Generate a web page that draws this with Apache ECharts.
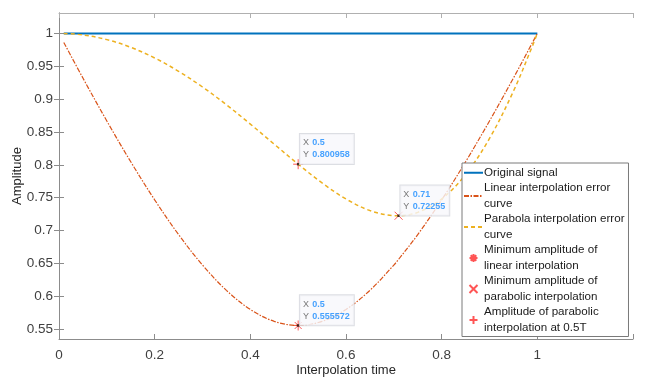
<!DOCTYPE html>
<html>
<head>
<meta charset="utf-8">
<style>
  html, body { margin: 0; padding: 0; background: #fff; }
  #chart { width: 645px; height: 377px; }
</style>
<script src="https://cdn.jsdelivr.net/npm/echarts@6/dist/echarts.min.js"></script>
</head>
<body>
<div id="chart"></div>
<script>
// interpolation time samples
const tValues = [0.01, 0.05, 0.1, 0.15, 0.2, 0.25, 0.3, 0.35, 0.4, 0.45, 0.5,
  0.55, 0.6, 0.65, 0.7, 0.71, 0.75, 0.8, 0.85, 0.9, 0.95, 0.99, 1];
const originalAmp = [1, 1, 1, 1, 1, 1, 1, 1, 1, 1, 1, 1, 1, 1, 1, 1, 1, 1, 1, 1, 1, 1, 1];
const linearAmp = [0.9862, 0.932, 0.8667, 0.8046, 0.7467, 0.6939, 0.6475, 0.609, 0.5799, 0.5618, 0.5556,
  0.5618, 0.5799, 0.609, 0.6475, 0.6562, 0.6939, 0.7467, 0.8046, 0.8667, 0.932, 0.9862, 1];
const parabolaAmp = [0.9999, 0.9976, 0.9905, 0.9788, 0.9626, 0.9423, 0.9184, 0.8914, 0.862, 0.8314, 0.801,
  0.7724, 0.748, 0.7304, 0.7227, 0.7226, 0.7277, 0.748, 0.7853, 0.8401, 0.912, 0.9812, 1];

// data tips
const tipX = [0.5, 0.71, 0.5];
const tipY = [0.800958, 0.72255, 0.555572];

const yTicks = [0.55, 0.6, 0.65, 0.7, 0.75, 0.8, 0.85, 0.9, 0.95, 1];

const names = {
  orig: "Original signal",
  lin: "Linear interpolation error curve",
  par: "Parabola interpolation error curve",
  minLin: "Minimum amplitude of linear interpolation",
  minPar: "Minimum amplitude of parabolic interpolation",
  half: "Amplitude of parabolic interpolation at 0.5T"
};
const wrapped = {};
wrapped[names.orig] = "Original signal";
wrapped[names.lin] = "Linear interpolation error\ncurve";
wrapped[names.par] = "Parabola interpolation error\ncurve";
wrapped[names.minLin] = "Minimum amplitude of\nlinear interpolation";
wrapped[names.minPar] = "Minimum amplitude of\nparabolic interpolation";
wrapped[names.half] = "Amplitude of parabolic\ninterpolation at 0.5T";

const pair = (xs, ys) => xs.map((x, i) => [x, ys[i]]);

const FONT = "Liberation Sans";
const axisColor = "#8c8c8c";
const markRed = "#ff2a2a";

const chart = echarts.init(document.getElementById("chart"), null, { renderer: "canvas" });

const yMin = 0.535, yMax = 1.031;

// line series in the legend: hide the circle ECharts puts on the line icon
const noDot = { color: "transparent", borderWidth: 0, opacity: 0 };

const option = {
  animation: false,
  textStyle: { fontFamily: FONT },
  grid: { left: 59, right: 12, top: 13, bottom: 38, show: false, outerBoundsMode: "none", containLabel: false },
  legend: {
    orient: "vertical",
    left: 462,
    top: 163,
    padding: [2, 4, 1, 1],
    itemGap: 0,
    itemWidth: 19,
    itemHeight: 8,
    backgroundColor: "#fff",
    borderColor: "#7a7a7a",
    borderWidth: 1,
    borderRadius: 0,
    textStyle: { fontSize: 11.6, color: "#1a1a1a", lineHeight: 15.5, padding: [0, 0, 0, -4] },
    formatter: (n) => wrapped[n] || n,
    data: [
      { name: names.orig, itemStyle: noDot },
      { name: names.lin, itemStyle: noDot },
      { name: names.par, itemStyle: noDot },
      names.minLin, names.minPar, names.half
    ]
  },
  xAxis: [
    {
      type: "value",
      min: 0, max: 1.2, interval: 0.2,
      name: "Interpolation time",
      nameLocation: "middle",
      nameGap: 25,
      nameMoveOverlap: false,
      nameTextStyle: { fontSize: 13, color: "#262626" },
      axisLine: { lineStyle: { color: axisColor } },
      axisTick: { inside: true, length: 5, lineStyle: { color: axisColor } },
      axisLabel: {
        fontSize: 13.5, color: "#404040", margin: 9,
        formatter: (v) => (v > 1.01 ? "" : String(Math.round(v * 10) / 10))
      },
      splitLine: { show: false }
    },
    {
      type: "value",
      position: "top",
      min: 0, max: 1.2, interval: 0.2,
      axisLine: { show: true, lineStyle: { color: "#b0b0b0" } },
      axisTick: { inside: true, length: 5, lineStyle: { color: "#b0b0b0" } },
      axisLabel: { show: false },
      splitLine: { show: false }
    }
  ],
  yAxis: [
    {
      type: "value",
      min: yMin, max: yMax,
      name: "Amplitude",
      nameLocation: "middle",
      nameGap: 35,
      nameMoveOverlap: false,
      nameTextStyle: { fontSize: 13, color: "#262626" },
      axisLine: { show: true, lineStyle: { color: "#b0b0b0" } },
      axisTick: { inside: true, length: 5, customValues: yTicks, lineStyle: { color: axisColor } },
      axisLabel: { fontSize: 13.5, color: "#404040", margin: 6, customValues: yTicks },
      splitLine: { show: false }
    },
    {
      type: "value",
      position: "right",
      min: yMin, max: yMax,
      axisLine: { show: true, lineStyle: { color: axisColor } },
      axisTick: { inside: true, length: 5, customValues: yTicks, lineStyle: { color: axisColor } },
      axisLabel: { show: false },
      splitLine: { show: false }
    }
  ],
  series: [
    {
      name: names.orig,
      type: "line",
      data: pair(tValues, originalAmp),
      symbol: "none",
      lineStyle: { color: "#0072BD", width: 2 },
      itemStyle: { color: "#0072BD" }
    },
    {
      name: names.lin,
      type: "line",
      data: pair(tValues, linearAmp),
      symbol: "none",
      smooth: 0.35,
      lineStyle: { color: "#D95319", width: 1.2, type: [5, 1.5, 1.5, 1.5] },
      itemStyle: { color: "#D95319" }
    },
    {
      name: names.par,
      type: "line",
      data: pair(tValues, parabolaAmp),
      symbol: "none",
      smooth: 0.35,
      lineStyle: { color: "#EDB120", width: 1.5, type: [4, 3] },
      itemStyle: { color: "#EDB120" }
    },
    {
      name: names.minLin,
      type: "scatter",
      data: [[tipX[2], tipY[2]]],
      symbol: "path://M5,0L5,10M0,5L10,5M1.5,1.5L8.5,8.5M8.5,1.5L1.5,8.5",
      symbolSize: 10,
      itemStyle: { color: "transparent", borderColor: markRed, borderWidth: 1 }
    },
    {
      name: names.minPar,
      type: "scatter",
      data: [[tipX[1], tipY[1]]],
      symbol: "path://M0,0L10,10M10,0L0,10",
      symbolSize: 8,
      itemStyle: { color: "transparent", borderColor: markRed, borderWidth: 1 }
    },
    {
      name: names.half,
      type: "scatter",
      data: [[tipX[0], tipY[0]]],
      symbol: "path://M5,0L5,10M0,5L10,5",
      symbolSize: 10,
      itemStyle: { color: "transparent", borderColor: markRed, borderWidth: 1 }
    },
    {
      name: "datatips",
      type: "scatter",
      symbol: "rect",
      symbolSize: 2.5,
      itemStyle: { color: "#111" },
      z: 5,
      data: tipX.map((x, i) => ({
        value: [x, tipY[i]],
        label: {
          show: true,
          position: [3, -29],
          formatter: "{g|X} {b|" + x + "}\n{g|Y} {b|" + tipY[i] + "}",
          backgroundColor: "#f7f8fb",
          borderColor: "#d3d6dc",
          borderWidth: 1,
          padding: [3, 4, 3, 3],
          lineHeight: 12,
          rich: {
            g: { fontSize: 9, color: "#555", lineHeight: 12 },
            b: { fontSize: 9, color: "#1a8cff", fontWeight: "bold", lineHeight: 12 }
          }
        }
      }))
    }
  ]
};

chart.setOption(option);
</script>
</body>
</html>
